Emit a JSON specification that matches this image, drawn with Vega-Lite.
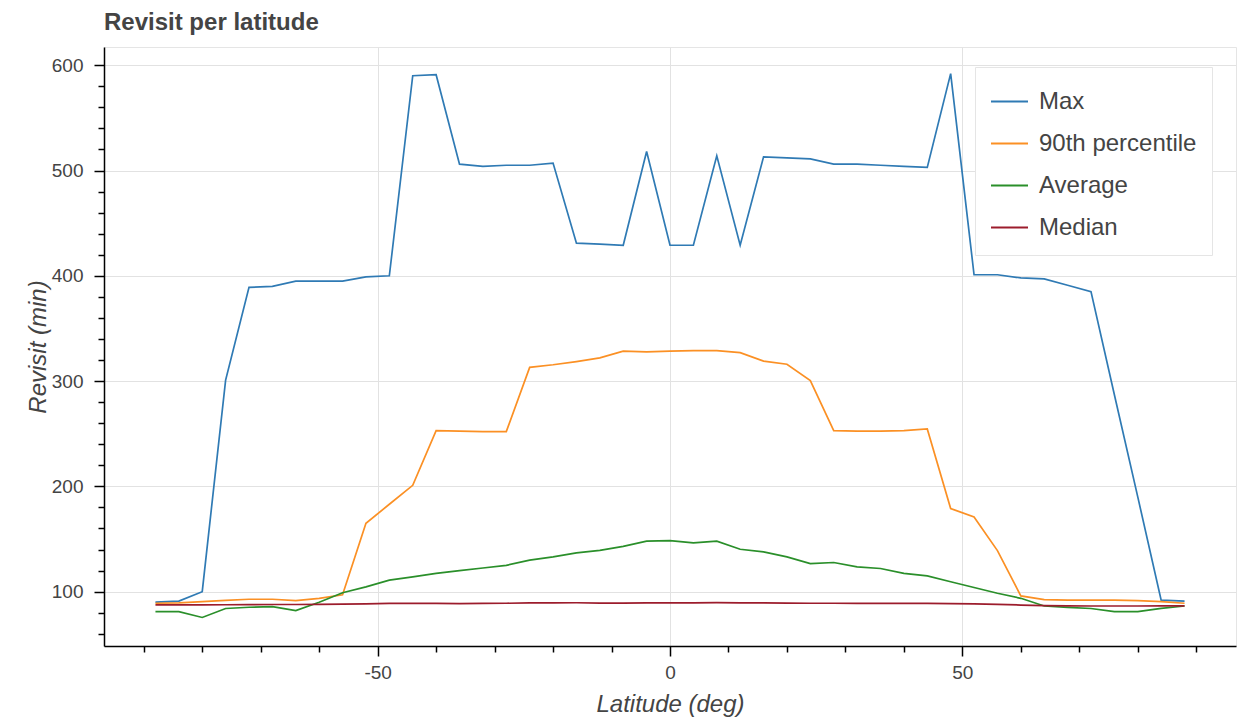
{
  "$schema": "https://vega.github.io/schema/vega-lite/v6.json",
  "width": 1132,
  "height": 599,
  "autosize": {"type": "none"},
  "padding": {"left": 104, "top": 47, "right": 7, "bottom": 71},
  "background": "white",
  "config": {"font": "Liberation Sans", "view": {"stroke": "#e5e5e5", "strokeWidth": 1}},
  "title": {"text": "Revisit per latitude", "anchor": "start", "frame": "group", "fontSize": 24, "fontWeight": "bold", "color": "#444444", "font": "Liberation Sans", "offset": 12},
  "data": {"values": [
    {"latitude": -88, "Max": 90, "P90": 89, "Average": 81, "Median": 87.4},
    {"latitude": -84, "Max": 91, "P90": 89.3, "Average": 81, "Median": 87.4},
    {"latitude": -80, "Max": 100, "P90": 90.5, "Average": 75.5, "Median": 87.5},
    {"latitude": -76, "Max": 301, "P90": 91.8, "Average": 84, "Median": 87.6},
    {"latitude": -72, "Max": 389, "P90": 92.8, "Average": 85.2, "Median": 87.7},
    {"latitude": -68, "Max": 390, "P90": 92.8, "Average": 85.8, "Median": 87.8},
    {"latitude": -64, "Max": 395, "P90": 91.5, "Average": 82, "Median": 87.8},
    {"latitude": -60, "Max": 395, "P90": 93.7, "Average": 90, "Median": 88},
    {"latitude": -56, "Max": 395, "P90": 97, "Average": 99, "Median": 88.2},
    {"latitude": -52, "Max": 399, "P90": 165, "Average": 104.5, "Median": 88.5},
    {"latitude": -48, "Max": 400, "P90": 183, "Average": 111, "Median": 88.8},
    {"latitude": -44, "Max": 590, "P90": 201, "Average": 114, "Median": 88.8},
    {"latitude": -40, "Max": 591, "P90": 253, "Average": 117.3, "Median": 88.8},
    {"latitude": -36, "Max": 506, "P90": 252.5, "Average": 120, "Median": 88.7},
    {"latitude": -32, "Max": 504, "P90": 252, "Average": 122.5, "Median": 88.9},
    {"latitude": -28, "Max": 505, "P90": 252, "Average": 125, "Median": 89},
    {"latitude": -24, "Max": 505, "P90": 313, "Average": 130, "Median": 89.3},
    {"latitude": -20, "Max": 507, "P90": 315.5, "Average": 133, "Median": 89.4},
    {"latitude": -16, "Max": 431, "P90": 318.5, "Average": 136.8, "Median": 89.5},
    {"latitude": -12, "Max": 430, "P90": 322, "Average": 139.3, "Median": 89.2},
    {"latitude": -8, "Max": 429, "P90": 328.5, "Average": 143, "Median": 89.2},
    {"latitude": -4, "Max": 518, "P90": 327.8, "Average": 148, "Median": 89.4},
    {"latitude": 0, "Max": 429, "P90": 328.5, "Average": 148.5, "Median": 89.3},
    {"latitude": 4, "Max": 429, "P90": 329, "Average": 146.3, "Median": 89.4},
    {"latitude": 8, "Max": 514, "P90": 329, "Average": 148, "Median": 89.6},
    {"latitude": 12, "Max": 429, "P90": 327, "Average": 140.3, "Median": 89.4},
    {"latitude": 16, "Max": 513, "P90": 319, "Average": 137.8, "Median": 89.3},
    {"latitude": 20, "Max": 512, "P90": 316, "Average": 133, "Median": 89.2},
    {"latitude": 24, "Max": 511, "P90": 300.5, "Average": 126.7, "Median": 89},
    {"latitude": 28, "Max": 506, "P90": 253, "Average": 127.7, "Median": 89},
    {"latitude": 32, "Max": 506, "P90": 252.5, "Average": 123.6, "Median": 88.9},
    {"latitude": 36, "Max": 505, "P90": 252.5, "Average": 122, "Median": 88.9},
    {"latitude": 40, "Max": 504, "P90": 253, "Average": 117.3, "Median": 88.8},
    {"latitude": 44, "Max": 503, "P90": 254.5, "Average": 115, "Median": 88.8},
    {"latitude": 48, "Max": 592, "P90": 179, "Average": 109.4, "Median": 88.6},
    {"latitude": 52, "Max": 401, "P90": 171, "Average": 104, "Median": 88.4},
    {"latitude": 56, "Max": 401, "P90": 139, "Average": 98.5, "Median": 88},
    {"latitude": 60, "Max": 398, "P90": 96, "Average": 93.7, "Median": 87.3},
    {"latitude": 64, "Max": 397, "P90": 92.4, "Average": 86.4, "Median": 86.7},
    {"latitude": 68, "Max": 391, "P90": 92, "Average": 85, "Median": 86.5},
    {"latitude": 72, "Max": 385, "P90": 92, "Average": 84, "Median": 86.4},
    {"latitude": 76, "Max": 287, "P90": 92, "Average": 81, "Median": 86.4},
    {"latitude": 80, "Max": 190, "P90": 91.5, "Average": 81, "Median": 86.4},
    {"latitude": 84, "Max": 92, "P90": 90.5, "Average": 84.2, "Median": 86.5},
    {"latitude": 88, "Max": 91, "P90": 89, "Average": 86.4, "Median": 86.5}
  ]},
  "transform": [
    {"fold": ["Max", "P90", "Average", "Median"], "as": ["key", "revisit"]},
    {"lookup": "key", "from": {"data": {"values": [
      {"key": "Max", "series": "Max", "order": 1},
      {"key": "P90", "series": "90th percentile", "order": 2},
      {"key": "Average", "series": "Average", "order": 3},
      {"key": "Median", "series": "Median", "order": 4}
    ]}, "key": "key", "fields": ["series", "order"]}}
  ],
  "layer": [
    {
      "mark": {"type": "line", "strokeWidth": 1.7},
      "encoding": {
        "x": {"field": "latitude", "type": "quantitative",
          "scale": {"domain": [-96.8, 96.8], "nice": false, "zero": false},
          "axis": {"orient": "bottom", "values": [-50, 0, 50], "labelExpr": "'' + datum.value",
            "tickSize": 10, "tickWidth": 1.5, "tickColor": "#000000", "domainColor": "#000000", "domainWidth": 1.5,
            "grid": true, "gridColor": "#e2e2e2", "gridWidth": 1,
            "labelFontSize": 19, "labelColor": "#444444", "labelPadding": 7, "labelFont": "Liberation Sans",
            "title": "Latitude (deg)", "titleFontSize": 24, "titleFontStyle": "italic", "titleFontWeight": "normal",
            "titleColor": "#444444", "titleFont": "Liberation Sans", "titleY": 65, "titleBaseline": "alphabetic"}},
        "y": {"field": "revisit", "type": "quantitative",
          "scale": {"domain": [48.4, 617.3], "nice": false, "zero": false},
          "axis": {"orient": "left", "values": [100, 200, 300, 400, 500, 600],
            "tickSize": 10, "tickWidth": 1.5, "tickColor": "#000000", "domainColor": "#000000", "domainWidth": 1.5,
            "grid": true, "gridColor": "#e2e2e2", "gridWidth": 1,
            "labelFontSize": 19, "labelColor": "#444444", "labelPadding": 11, "labelFont": "Liberation Sans",
            "title": "Revisit (min)", "titleFontSize": 24, "titleFontStyle": "italic", "titleFontWeight": "normal",
            "titleColor": "#444444", "titleFont": "Liberation Sans", "titleX": -59, "titleY": 299.5,
            "titleAngle": -90, "titleAlign": "center", "titleBaseline": "alphabetic"}},
        "color": {"field": "series", "type": "nominal",
          "scale": {"domain": ["Max", "90th percentile", "Average", "Median"],
            "range": ["#2f7ab4", "#fb9024", "#2a8f2a", "#9c1c2c"]},
          "legend": {"title": null, "orient": "none", "legendX": 871, "legendY": 20,
            "symbolType": "stroke", "symbolSize": 1369, "symbolStrokeWidth": 2,
            "labelFontSize": 24, "labelColor": "#444444", "labelFont": "Liberation Sans", "labelOffset": 10,
            "padding": 15, "rowPadding": 10, "fillColor": "white", "strokeColor": "#e5e5e5"}},
        "order": {"field": "latitude", "type": "quantitative"}
      }
    },
    {
      "mark": {"type": "line", "opacity": 0},
      "encoding": {
        "x": {"field": "latitude", "type": "quantitative",
          "scale": {"domain": [-96.8, 96.8], "nice": false, "zero": false},
          "axis": {"orient": "bottom", "values": [-90, -80, -70, -60, -40, -30, -20, -10, 10, 20, 30, 40, 60, 70, 80, 90],
            "tickSize": 6, "tickWidth": 1.5, "tickColor": "#000000", "labels": false, "domain": false, "grid": false, "title": null}},
        "y": {"field": "revisit", "type": "quantitative",
          "scale": {"domain": [48.4, 617.3], "nice": false, "zero": false},
          "axis": {"orient": "left", "values": [60, 80, 120, 140, 160, 180, 220, 240, 260, 280, 320, 340, 360, 380, 420, 440, 460, 480, 520, 540, 560, 580],
            "tickSize": 6, "tickWidth": 1.5, "tickColor": "#000000", "labels": false, "domain": false, "grid": false, "title": null}},
        "detail": {"field": "series", "type": "nominal"}
      }
    }
  ],
  "resolve": {"axis": {"x": "independent", "y": "independent"}}
}
